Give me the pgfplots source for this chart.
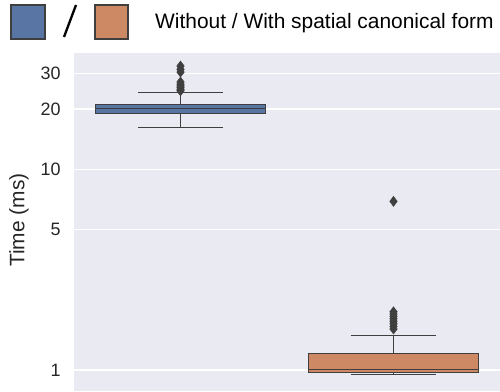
\documentclass[border=0pt]{standalone}
\usepackage{pgfplots}
\pgfplotsset{compat=1.18}
\usepgfplotslibrary{statistics}
\usepackage{fontspec}
\setmainfont{Liberation Sans}
\definecolor{bg}{HTML}{EAEAF2}
\definecolor{sbblue}{HTML}{5975A4}
\definecolor{sborange}{HTML}{CC8963}
\definecolor{edge}{HTML}{3F3F3F}
\definecolor{txt}{HTML}{262626}
\begin{document}
\begin{tikzpicture}[x=1bp,y=1bp]
\useasboundingbox (0,0) rectangle (500,391);
\begin{axis}[
  at={(74bp,0bp)}, anchor=south west,
  width=426bp, height=338.3bp, scale only axis,
  ymode=log, ymin=0.786, ymax=38.1,
  xmin=-0.5, xmax=1.5,
  xtick=\empty,
  ytick={1,5,10,20,30}, yticklabels={1,5,10,20,30},
  axis background/.style={fill=bg},
  axis line style={draw=none},
  ymajorgrids, major grid style={white, line width=1.3bp},
  tick style={draw=none},
  /pgf/number format/assume math mode=true,
  yticklabel style={font=\fontsize{18}{20}\selectfont, text=txt, xshift=-10bp},
  ylabel={\fontsize{21}{24}\selectfont Time (ms)},
  ylabel style={text=txt, at={(axis description cs:-0.129,0.505)}, anchor=center},
  boxplot/draw direction=y,
  clip=false,
]
\addplot[boxplot prepared={draw position=0, lower whisker=16.2, lower quartile=19.05, median=20.1, upper quartile=21.1, upper whisker=24.1, box extend=0.8, whisker extend=0.4},
  fill=sbblue, draw=edge, line width=1.2bp, mark=diamond*, mark size=5bp, mark options={fill=edge, draw=edge, line width=0.5bp}]
  table[row sep=\\, y index=0] {24.6\\25.0\\25.5\\26.0\\26.5\\27.2\\30.5\\31.5\\32.7\\};
\addplot[boxplot prepared={draw position=1, lower whisker=0.952, lower quartile=0.969, median=1.008, upper quartile=1.206, upper whisker=1.49, box extend=0.8, whisker extend=0.4},
  fill=sborange, draw=edge, line width=1.2bp, mark=diamond*, mark size=5bp, mark options={fill=edge, draw=edge, line width=0.5bp}]
  table[row sep=\\, y index=0] {1.60\\1.65\\1.70\\1.75\\1.80\\1.85\\1.90\\1.95\\6.92\\};
\end{axis}
\fill[sbblue, draw=edge, line width=1.2bp] (11,352) rectangle (45,386);
\draw[black, line width=2.3bp] (64,354) -- (76,386);
\fill[sborange, draw=edge, line width=1.2bp] (95,352) rectangle (128,386);
\node[anchor=base west, inner sep=0pt, text=black, font=\fontsize{21}{24}\selectfont] at (155,362.7) {Without / With spatial canonical form};
\end{tikzpicture}
\end{document}
